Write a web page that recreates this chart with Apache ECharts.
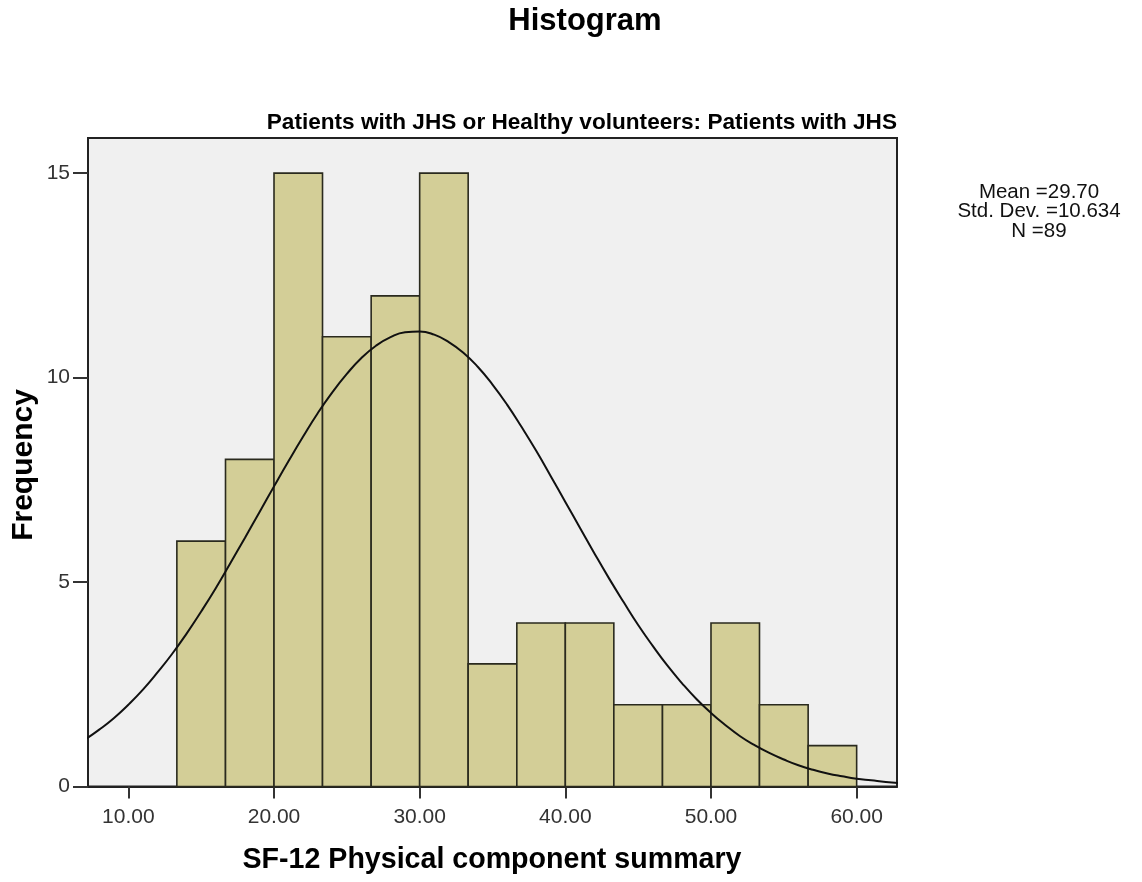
<!DOCTYPE html>
<html>
<head>
<meta charset="utf-8">
<script src="https://cdn.jsdelivr.net/npm/echarts@6/dist/echarts.min.js"></script>
<style>
  html, body { margin: 0; padding: 0; background: #ffffff; }
  #chart { width: 1142px; height: 882px; }
</style>
</head>
<body>
<div id="chart"></div>
<script>
// ---- Data ----
const binEdges = [13.33, 16.67, 20.00, 23.33, 26.67, 30.00, 33.33, 36.67, 40.00, 43.33, 46.67, 50.00, 53.33, 56.67, 60.00];
const binCounts = [6, 8, 15, 11, 12, 15, 3, 4, 4, 2, 2, 4, 2, 1];
const xTickValues = [10, 20, 30, 40, 50, 60];
const yTickValues = [0, 5, 10, 15];
// normal curve, read at x = 7 ... 63
const curveX = [7, 8, 9, 10, 11, 12, 13, 14, 15, 16, 17, 18, 19, 20, 21, 22, 23, 24, 25, 26, 27, 28, 29, 30,
                31, 32, 33, 34, 35, 36, 37, 38, 39, 40, 41, 42, 43, 44, 45, 46, 47, 48, 49, 50, 51, 52, 53,
                54, 55, 56, 57, 58, 59, 60, 61, 62, 63];
const curveY = [1.14, 1.39, 1.67, 2.00, 2.37, 2.79, 3.24, 3.74, 4.28, 4.85, 5.46, 6.08, 6.71, 7.34, 7.96, 8.56,
                9.13, 9.64, 10.09, 10.48, 10.78, 10.99, 11.11, 11.13, 11.05, 10.87, 10.61, 10.26, 9.83, 9.34,
                8.79, 8.21, 7.59, 6.96, 6.33, 5.70, 5.09, 4.51, 3.95, 3.44, 2.96, 2.53, 2.14, 1.80, 1.50, 1.23,
                1.01, 0.82, 0.66, 0.52, 0.41, 0.32, 0.25, 0.19, 0.15, 0.11, 0.08];
const titleText = 'Histogram';
const subtitleText = 'Patients with JHS or Healthy volunteers: Patients with JHS';
const xAxisTitle = 'SF-12 Physical component summary';
const yAxisTitle = 'Frequency';
const statLines = ['Mean =29.70', 'Std. Dev. =10.634', 'N =89'];

// ---- Build ----
const FONT = "'Liberation Sans', Arial, Helvetica, sans-serif";
const barData = binCounts.map((c, i) => [binEdges[i], binEdges[i + 1], c]);
const lineData = curveX.map((x, i) => [x, curveY[i]]);

const chart = echarts.init(document.getElementById('chart'), null, { renderer: 'canvas' });
chart.setOption({
  backgroundColor: '#ffffff',
  animation: false,
  textStyle: { fontFamily: FONT },
  grid: {
    left: 88, right: 245, top: 138, bottom: 95.5,
    show: true, backgroundColor: '#f0f0f0', borderColor: '#222', borderWidth: 2
  },
  xAxis: {
    type: 'value', min: 7.23, max: 62.77,
    splitLine: { show: false },
    axisLine: { show: true, onZero: false, lineStyle: { color: '#222', width: 2 } },
    axisTick: { show: true, inside: false, customValues: xTickValues, length: 12, lineStyle: { color: '#333', width: 2 } },
    axisLabel: {
      customValues: xTickValues, margin: 20, fontSize: 21, color: '#333', fontFamily: FONT,
      formatter: v => Number(v).toFixed(2)
    }
  },
  yAxis: {
    type: 'value', min: 0, max: 15.86,
    splitLine: { show: false },
    axisLine: { show: true, lineStyle: { color: '#222', width: 2 } },
    axisTick: { show: true, inside: false, customValues: yTickValues, length: 15, lineStyle: { color: '#333', width: 2 } },
    axisLabel: { customValues: yTickValues, margin: 18, fontSize: 21, color: '#333', fontFamily: FONT }
  },
  series: [
    {
      type: 'custom',
      data: barData,
      encode: { x: [0, 1], y: 2 },
      renderItem: function (params, api) {
        const p0 = api.coord([api.value(0), 0]);
        const p1 = api.coord([api.value(1), api.value(2)]);
        return {
          type: 'rect',
          shape: { x: p0[0], y: p1[1], width: p1[0] - p0[0], height: p0[1] - p1[1] },
          style: { fill: '#d3ce97', stroke: '#2a2a1e', lineWidth: 1.6 }
        };
      },
      z: 2
    },
    {
      type: 'line',
      data: lineData,
      smooth: true,
      symbol: 'none',
      clip: true,
      lineStyle: { color: '#111', width: 2 },
      z: 3
    }
  ],
  graphic: [
    { type: 'text', x: 585, y: 21, style: { text: titleText, font: "bold 31px " + FONT, fill: '#000', align: 'center', verticalAlign: 'middle' } },
    { type: 'text', x: 897, y: 123, style: { text: subtitleText, font: "bold 22.6px " + FONT, fill: '#000', align: 'right', verticalAlign: 'middle' } },
    { type: 'text', x: 492, y: 860, style: { text: xAxisTitle, font: "bold 28.6px " + FONT, fill: '#000', align: 'center', verticalAlign: 'middle' } },
    { type: 'text', x: 24, y: 465, rotation: Math.PI / 2, style: { text: yAxisTitle, font: "bold 30px " + FONT, fill: '#000', align: 'center', verticalAlign: 'middle' } },
    { type: 'text', x: 1039, y: 192, style: { text: statLines[0], font: "20.5px " + FONT, fill: '#111', align: 'center', verticalAlign: 'middle' } },
    { type: 'text', x: 1039, y: 211, style: { text: statLines[1], font: "20.5px " + FONT, fill: '#111', align: 'center', verticalAlign: 'middle' } },
    { type: 'text', x: 1039, y: 231, style: { text: statLines[2], font: "20.5px " + FONT, fill: '#111', align: 'center', verticalAlign: 'middle' } }
  ]
});
</script>
</body>
</html>
